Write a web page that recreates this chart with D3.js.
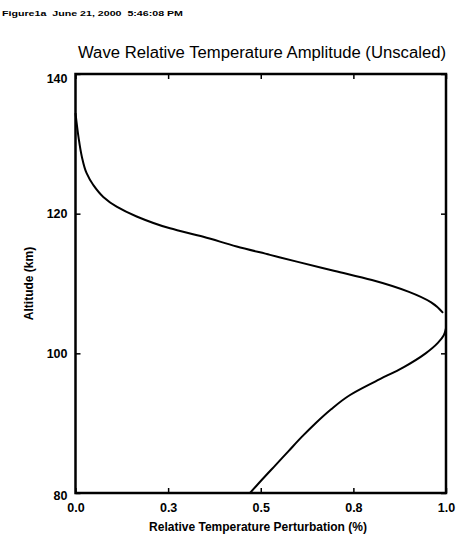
<!DOCTYPE html>
<html>
<head>
<meta charset="utf-8">
<script src="https://cdn.jsdelivr.net/npm/d3@7.9.0/dist/d3.min.js"></script>
<style>
  body { margin: 0; background: #fff; }
  svg { display: block; font-family: "Liberation Sans", Arial, sans-serif; }
  .axis text { font-weight: bold; font-size: 12.5px; fill: #000; }
  .axis path { display: none; }
  .axis line { stroke: #000; stroke-width: 1.5; }
</style>
</head>
<body>
<svg id="chart" width="457" height="538"></svg>
<script>
// upper branch: altitude (km) and relative amplitude
const upperAlt = [134.4, 131.0, 128.2, 125.8, 124.1, 122.4, 121.0, 119.6, 117.9, 116.7, 115.3, 114.1, 113.1, 111.8, 110.5, 108.8, 107.3, 105.8];
const upperAmp = [0.0, 0.008, 0.017, 0.03, 0.048, 0.075, 0.111, 0.165, 0.255, 0.345, 0.435, 0.525, 0.6, 0.7, 0.8, 0.9, 0.96, 0.992];

// lower branch (listed from the top down, like the upper one)
const lowerAlt = [103.6, 102.6, 101.5, 100.0, 98.0, 96.0, 94.0, 92.0, 90.0, 88.0, 86.0, 84.0, 82.0, 80.0];
const lowerAmp = [1.0, 0.994, 0.978, 0.945, 0.885, 0.81, 0.74, 0.69, 0.648, 0.61, 0.575, 0.54, 0.505, 0.471];

const xTicks = [0, 0.25, 0.5, 0.75, 1.0];
const yTicks = [80, 100, 120, 140];

const svg = d3.select("#chart");
const mLeft = 75.5, mRight = 446, mTop = 74, mBottom = 493;

const x = d3.scaleLinear().domain([0, 1]).range([mLeft, mRight]);
const y = d3.scaleLinear().domain([80, 140]).range([mBottom, mTop]);

// header stamp
svg.append("text")
    .attr("x", 2).attr("y", 16)
    .attr("font-size", 8).attr("font-weight", "bold")
    .attr("textLength", 181).attr("lengthAdjust", "spacingAndGlyphs")
    .style("white-space", "pre")
    .text("Figure1a  June 21, 2000  5:46:08 PM");

svg.append("text")
    .attr("x", 262).attr("y", 58)
    .attr("text-anchor", "middle")
    .attr("font-size", 16)
    .attr("textLength", 368).attr("lengthAdjust", "spacingAndGlyphs")
    .text("Wave Relative Temperature Amplitude (Unscaled)");

// axes, ticks pointing inward
const fmt = d3.format(".1f");
svg.append("g").attr("class", "axis")
    .attr("transform", `translate(0,${mBottom})`)
    .call(d3.axisBottom(x).tickValues(xTicks).tickFormat(fmt).tickSizeInner(-5).tickSizeOuter(0).tickPadding(10));
svg.append("g").attr("class", "axis")
    .attr("transform", `translate(0,${mTop})`)
    .call(d3.axisTop(x).tickValues(xTicks).tickFormat("").tickSizeInner(-5).tickSizeOuter(0));
svg.append("g").attr("class", "axis")
    .attr("transform", `translate(${mLeft},0)`)
    .call(d3.axisLeft(y).tickValues(yTicks).tickFormat(d3.format("d")).tickSizeInner(-5).tickSizeOuter(0).tickPadding(8))
    .selectAll("text")
    .attr("dy", d => d === 140 ? "0.7em" : d === 80 ? "0.55em" : "0.32em");
svg.append("g").attr("class", "axis")
    .attr("transform", `translate(${mRight},0)`)
    .call(d3.axisRight(y).tickValues(yTicks).tickFormat("").tickSizeInner(-5).tickSizeOuter(0));

// frame
svg.append("rect")
    .attr("x", mLeft).attr("y", mTop)
    .attr("width", mRight - mLeft).attr("height", mBottom - mTop)
    .attr("fill", "none").attr("stroke", "#000").attr("stroke-width", 2.5);

// axis titles
svg.append("text")
    .attr("x", 258).attr("y", 531)
    .attr("text-anchor", "middle")
    .attr("font-size", 12).attr("font-weight", "bold")
    .text("Relative Temperature Perturbation (%)");
svg.append("text")
    .attr("transform", `translate(33,${(mTop + mBottom) / 2}) rotate(-90)`)
    .attr("text-anchor", "middle")
    .attr("font-size", 12).attr("font-weight", "bold")
    .text("Altitude (km)");

// curves
const line = d3.line()
    .x(d => x(d[1]))
    .y(d => y(d[0]))
    .curve(d3.curveMonotoneY);

[[upperAlt, upperAmp], [lowerAlt, lowerAmp]].forEach(([alt, amp]) => {
    svg.append("path")
        .datum(alt.map((a, i) => [a, amp[i]]))
        .attr("d", line)
        .attr("fill", "none")
        .attr("stroke", "#000")
        .attr("stroke-width", 2);
});
</script>
</body>
</html>
